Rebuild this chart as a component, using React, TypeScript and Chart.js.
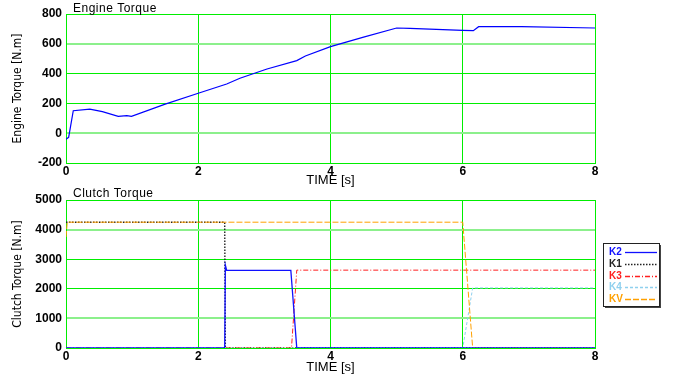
import React, { useEffect, useRef } from 'react';
import { Chart, registerables } from 'chart.js';
Chart.register(...registerables);

// ---------- data ----------
const engineTime = [0, 0.04, 0.11, 0.36, 0.55, 0.79, 0.92, 0.99, 1.5, 2.0, 2.43, 2.63, 3.04, 3.49, 3.62, 4.0, 4.5, 5.0, 5.2, 6.0, 6.16, 6.24, 6.89, 8.0];
const engineTorque = [-40, -28, 151, 162, 145, 113, 118, 113, 195, 268, 330, 369, 431, 487, 518, 581, 645, 706, 704, 690, 688, 715, 715, 706];

const k2Time = [0, 2.4, 2.41, 2.43, 3.4, 3.49, 8.0];
const k2Torque = [0, 0, 2800, 2625, 2625, 0, 0];
const k1Time = [0, 2.4, 2.41, 8.0];
const k1Torque = [4250, 4250, 0, 0];
const k3Time = [0, 3.41, 3.49, 8.0];
const k3Torque = [0, 0, 2630, 2630];
const k4Time = [0, 6.0, 6.15, 8.0];
const k4Torque = [0, 0, 2030, 2030];
const kvTime = [0, 0.02, 6.0, 6.15, 8.0];
const kvTorque = [3750, 4250, 4250, 0, 0];

const timeTicks = [0, 2, 4, 6, 8];

const GRID = '#00ee00';
const LIGHT = '#8cf08c';
const FONT = "'Liberation Sans', Arial, sans-serif";
const NARROW = "'Liberation Sans Narrow', 'DejaVu Sans Condensed', sans-serif";

const pts = (xs: number[], ys: number[]) => xs.map((x, i) => ({ x, y: ys[i] }));

const titlePlugin = (text: string, dy: number) => ({
  id: 'cornerTitle',
  afterDraw(chart: any) {
    const ctx = chart.ctx;
    ctx.save();
    ctx.fillStyle = '#000';
    ctx.font = `12px ${FONT}`;
    (ctx as any).letterSpacing = '0.5px';
    ctx.textBaseline = 'middle';
    ctx.textAlign = 'left';
    ctx.fillText(text, chart.chartArea.left + 7, chart.chartArea.top + dy);
    ctx.restore();
  },
});

const legendPlugin = {
  id: 'boxLegend',
  afterDraw(chart: any) {
    const ctx = chart.ctx;
    const x = 603, y = 56, w = 56, h = 63;
    ctx.save();
    ctx.fillStyle = '#444';
    ctx.fillRect(x + 2, y + 2, w, h);
    ctx.fillStyle = '#fff';
    ctx.fillRect(x, y, w, h);
    ctx.strokeStyle = '#222';
    ctx.lineWidth = 1;
    ctx.strokeRect(x + 0.5, y + 0.5, w, h);
    chart.data.datasets.forEach((ds: any, i: number) => {
      const ly = Math.round(y + 9 + i * 11.8) + 0.5;
      ctx.fillStyle = ds.borderColor;
      ctx.font = `bold 10px ${FONT}`;
      ctx.textBaseline = 'middle';
      ctx.textAlign = 'left';
      ctx.fillText(ds.label, x + 6, ly);
      ctx.strokeStyle = ds.borderColor;
      ctx.lineWidth = 1.3;
      ctx.setLineDash(ds.borderDash || []);
      ctx.beginPath();
      ctx.moveTo(x + 22, ly);
      ctx.lineTo(x + 54, ly);
      ctx.stroke();
    });
    ctx.restore();
  },
};

function buildOptions(yMin: number, yMax: number, yStep: number, yTitle: string, lightTicks: number[], padTop: number, xHeight: number): any {
  return {
    responsive: false,
    animation: false,
    layout: { padding: { top: padTop, left: 0, right: 78, bottom: 0 } },
    plugins: { legend: { display: false }, tooltip: { enabled: false } },
    elements: { point: { radius: 0 }, line: { tension: 0 } },
    scales: {
      x: {
        type: 'linear',
        min: 0,
        max: 8,
        afterBuildTicks: (s: any) => { s.ticks = timeTicks.map((v) => ({ value: v })); },
        afterFit: (s: any) => { s.height = xHeight; },
        ticks: { color: '#000', font: { family: FONT, size: 12, weight: 'bold' }, padding: 1, maxRotation: 0, callback: (v: any) => String(v) },
        grid: { color: GRID, lineWidth: 1, drawTicks: false },
        border: { display: true, color: GRID },
        title: { display: true, text: 'TIME [s]', color: '#000', font: { family: FONT, size: 13, lineHeight: 1 }, padding: { top: 0, bottom: 0 } },
      },
      y: {
        type: 'linear',
        min: yMin,
        max: yMax,
        ticks: { stepSize: yStep, color: '#000', font: { family: FONT, size: 12, weight: 'bold' }, padding: 4, callback: (v: any) => String(v) },
        afterFit: (s: any) => { s.width = 66; },
        grid: {
          drawTicks: false,
          color: (c: any) => (c.tick && lightTicks.includes(c.tick.value) ? LIGHT : GRID),
          lineWidth: (c: any) => (c.tick && lightTicks.includes(c.tick.value) ? 2 : 1),
        },
        border: { display: true, color: GRID },
        title: { display: true, text: yTitle, color: '#000', font: { family: NARROW, size: 12 }, padding: { top: 11, bottom: 0 } },
      },
    },
  };
}

export default function App() {
  const topRef = useRef<HTMLCanvasElement>(null);
  const botRef = useRef<HTMLCanvasElement>(null);

  useEffect(() => {
    const top = new Chart(topRef.current!, {
      type: 'line',
      data: {
        datasets: [
          { label: 'Engine', data: pts(engineTime, engineTorque), borderColor: '#0000ff', borderWidth: 1.2, fill: false },
        ],
      },
      options: buildOptions(-200, 800, 200, 'Engine Torque [N.m]', [0, 600], 14, 24),
      plugins: [titlePlugin('Engine Torque', -5)],
    } as any);

    const bot = new Chart(botRef.current!, {
      type: 'line',
      data: {
        datasets: [
          { label: 'K2', data: pts(k2Time, k2Torque), borderColor: '#1010ff', borderWidth: 1.3, fill: false, order: 0 },
          { label: 'K1', data: pts(k1Time, k1Torque), borderColor: '#222222', borderWidth: 1.4, borderDash: [1.5, 1.5], fill: false, order: 4 },
          { label: 'K3', data: pts(k3Time, k3Torque), borderColor: '#ff2020', borderWidth: 1, borderDash: [5, 2, 1, 2], fill: false, order: 2 },
          { label: 'K4', data: pts(k4Time, k4Torque), borderColor: '#8fd0ee', borderWidth: 1, borderDash: [3, 2], fill: false, order: 3 },
          { label: 'KV', data: pts(kvTime, kvTorque), borderColor: '#ffa000', borderWidth: 1, borderDash: [6, 2], fill: false, order: 1 },
        ],
      },
      options: buildOptions(0, 5000, 1000, 'Clutch Torque [N.m]', [1000, 4000], 13, 26),
      plugins: [titlePlugin('Clutch Torque', -6), legendPlugin],
    } as any);

    return () => {
      top.destroy();
      bot.destroy();
    };
  }, []);

  return (
    <div style={{ position: 'absolute', left: 0, top: 0, width: 673, height: 374, background: '#fff' }}>
      <canvas ref={topRef} width={673} height={187} style={{ position: 'absolute', left: 0, top: 0 }} />
      <canvas ref={botRef} width={673} height={187} style={{ position: 'absolute', left: 0, top: 187 }} />
    </div>
  );
}
